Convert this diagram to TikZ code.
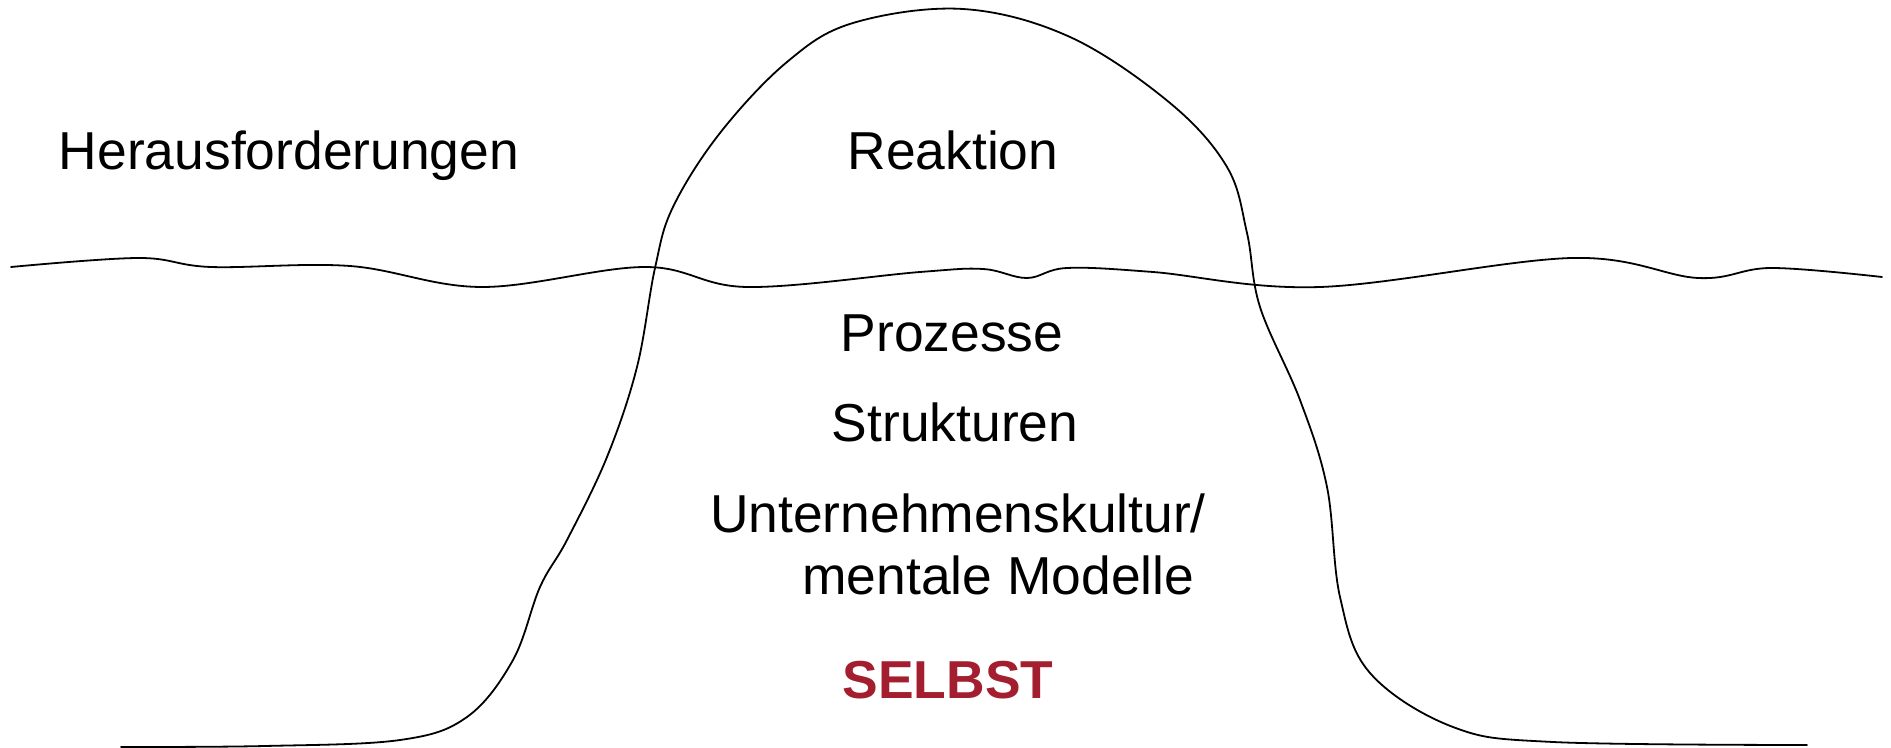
\documentclass[tikz,border=0pt]{standalone}
\usepackage{fontspec}
\setmainfont{Liberation Sans}
\definecolor{selbstrot}{RGB}{163,30,46}
\tikzset{
  txt/.style={anchor=base, inner sep=0pt, font=\fontsize{26.7}{32}\selectfont},
  linie/.style={line width=0.9pt, line join=round, line cap=round}
}
\begin{document}
\begin{tikzpicture}[x=0.5pt,y=-0.5pt]
  \useasboundingbox (0,0) rectangle (1891,748);

  % Draw surface line
  \draw[linie] plot[smooth, tension=0.6] coordinates {
    (11,267) (139,258) (211,267) (350,266) (482,287) (645,267)
    (747,287) (920,272) (983,269) (1027,278) (1067,268)
    (1153,272) (1320,287) (1572,258) (1698,278) (1771,268) (1882,277)};

  % Draw iceberg
  \draw[linie] plot[smooth, tension=0.6] coordinates {
    (121,747) (265,746) (400,740) (467,717) (513,660) (540,587)
    (567,540) (607,457) (637,367) (655,268) (673,207) (720,133)
    (787,62) (853,23) (963,9) (1070,37) (1170,103) (1227,167)
    (1247,233) (1260,307) (1300,400) (1327,487) (1340,597)
    (1370,673) (1453,727) (1553,742) (1807,745)};

  % Labels above
  \node[txt] (herausf) at (289,170) {Herausforderungen};
  \node[txt] (reaktion) at (953,170) {Reaktion};

  % Labels below
  \node[txt] (prozesse) at (952,352) {Prozesse};
  \node[txt] (strukturen) at (955,442) {Strukturen};
  \node[txt] (kultur) at (958,533) {Unternehmenskultur/};
  \node[txt, anchor=base west] (modelle) at (802,595) {mentale Modelle};
  \node[txt, font=\fontsize{26.7}{32}\selectfont\bfseries, text=selbstrot]
    (selbst) at (948,698) {SELBST};
\end{tikzpicture}
\end{document}
